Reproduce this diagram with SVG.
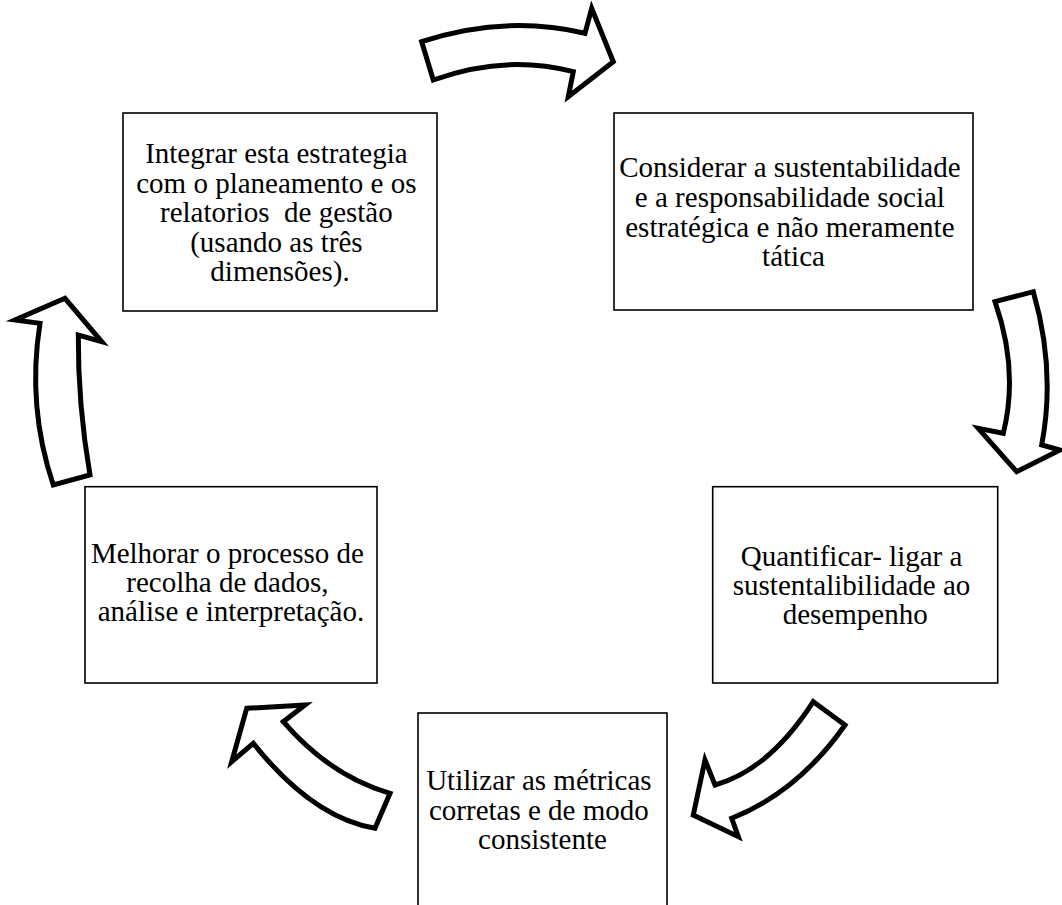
<svg xmlns="http://www.w3.org/2000/svg" width="1062" height="905" viewBox="0 0 1062 905">
  <style>
    .box { fill: #ffffff; stroke: #000000; stroke-width: 1.6; }
    .arrow { fill: #ffffff; stroke: #000000; stroke-width: 5; stroke-linejoin: miter; stroke-miterlimit: 10; }
    .label { font-family: "Liberation Serif", "Times New Roman", serif; font-size: 29px; fill: #000000; text-anchor: middle; }
  </style>
  <rect width="1062" height="905" fill="#ffffff"/>

  <!-- curved block arrows forming the cycle -->
  <g id="connectors">
    <path class="arrow" d="M421.7,41.7 L433.3,80 Q505,54 573.3,71.7 L568.3,96.7 L613.3,61.7 L591.7,8.3 L585,33.3 Q505,14.5 421.7,41.7 Z"/>
    <path class="arrow" d="M995,301.7 L1033.3,291.7 Q1056,370 1041.7,445 L1060,450 L1016.7,471.7 L978.3,428.3 L1003.3,433.3 Q1019,370 995,301.7 Z"/>
    <path class="arrow" d="M813.3,701.7 L845,725 Q798.3,791.7 731.7,818.3 L738.3,836.7 L693.3,815 L705,760 L715,785 Q769.2,770 813.3,701.7 Z"/>
    <path class="arrow" d="M246.7,708.3 L305,705 L283.3,721.7 Q330,775.9 390,793.3 L375,828.3 Q312.5,817.6 253.3,743.3 L231.7,761.7 Z"/>
    <path class="arrow" d="M65,298.3 L101.7,341.7 L78.3,335 Q77.9,405 90,475 L53.3,485 Q26.8,405.9 40,323.3 L15,320 Z"/>
  </g>

  <g id="node-integrar">
    <rect class="box" x="123" y="113" width="314" height="198"/>
    <text class="label">
      <tspan x="280" y="163">Integrar esta estrategia</tspan>
      <tspan x="280" y="193">com o planeamento e os</tspan>
      <tspan x="280" y="222" xml:space="preserve">relatorios  de gestão</tspan>
      <tspan x="280" y="252">(usando as três</tspan>
      <tspan x="280" y="281">dimensões).</tspan>
    </text>
  </g>

  <g id="node-considerar">
    <rect class="box" x="614" y="113" width="359" height="197"/>
    <text class="label">
      <tspan x="793.5" y="177">Considerar a sustentabilidade</tspan>
      <tspan x="793.5" y="207">e a responsabilidade social</tspan>
      <tspan x="793.5" y="237">estratégica e não meramente</tspan>
      <tspan x="793.5" y="266">tática</tspan>
    </text>
  </g>

  <g id="node-quantificar">
    <rect class="box" x="712.7" y="486.7" width="285" height="196.3"/>
    <text class="label">
      <tspan x="855.2" y="566">Quantificar- ligar a</tspan>
      <tspan x="855.2" y="595">sustentalibilidade ao</tspan>
      <tspan x="855.2" y="624">desempenho</tspan>
    </text>
  </g>

  <g id="node-utilizar">
    <rect class="box" x="418" y="713" width="249" height="210"/>
    <text class="label">
      <tspan x="542.5" y="790">Utilizar as métricas</tspan>
      <tspan x="542.5" y="819.5">corretas e de modo</tspan>
      <tspan x="542.5" y="849">consistente</tspan>
    </text>
  </g>

  <g id="node-melhorar">
    <rect class="box" x="85" y="486.7" width="292" height="196.3"/>
    <text class="label">
      <tspan x="231" y="563">Melhorar o processo de</tspan>
      <tspan x="231" y="592">recolha de dados,</tspan>
      <tspan x="231" y="621">análise e interpretação.</tspan>
    </text>
  </g>
</svg>
